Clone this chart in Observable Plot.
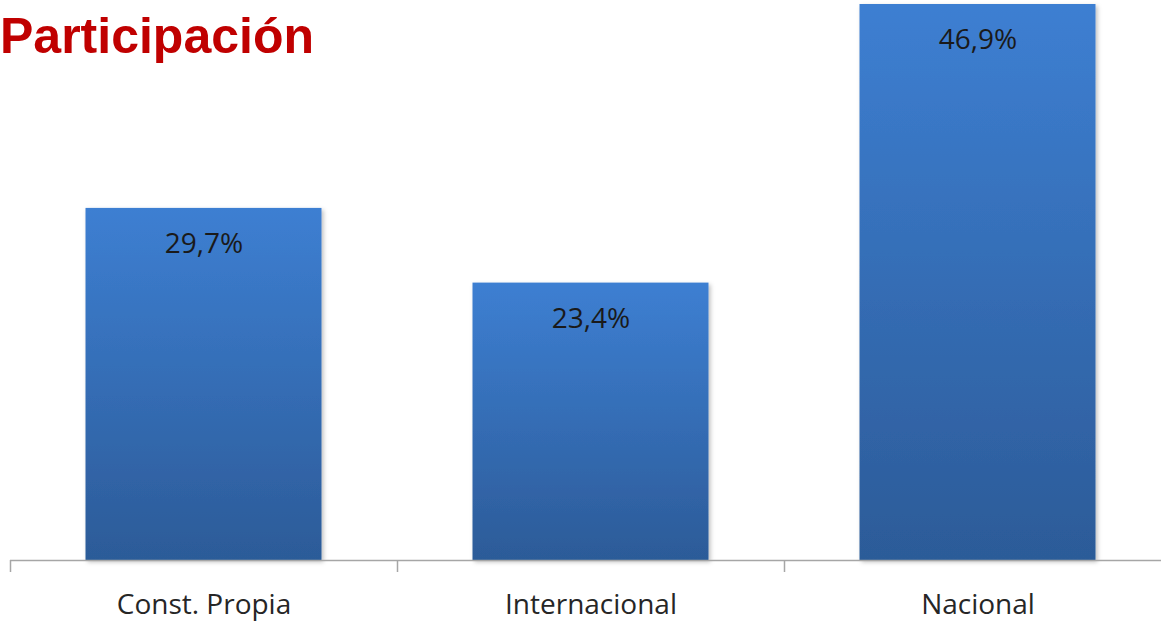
<!DOCTYPE html>
<html>
<head>
<meta charset="utf-8">
<script src="https://cdn.jsdelivr.net/npm/d3@7"></script>
<script src="https://cdn.jsdelivr.net/npm/@observablehq/plot@0.6"></script>
<style>
  html, body { margin: 0; padding: 0; background: #fff; overflow: hidden; }
  #wrap { position: relative; width: 1161px; height: 622px; overflow: hidden; }
  #title { position: absolute; left: 0px; top: 11px; font-family: "Liberation Sans", Arial, sans-serif; font-weight: bold; font-size: 50px; color: #c00000; line-height: 1; z-index: 2; }
  #chart svg { max-width: none !important; }
</style>
</head>
<body>
<div id="wrap">
  <div id="title">Participación</div>
  <div id="chart"></div>
</div>
<script>
const categories = ["Const. Propia", "Internacional", "Nacional"];
const values = [29.7, 23.4, 46.9];
const valueLabels = ["29,7%", "23,4%", "46,9%"];

const data = categories.map((c, i) => ({ cat: c, value: values[i], label: valueLabels[i] }));

const boundaryTicks = (index, scales, channels, dimensions) => {
  const g = d3.create("svg:g");
  const x = scales.x;
  const step = x.step ? x.step() : x.bandwidth();
  const y0 = dimensions.height - dimensions.marginBottom;
  const xs = categories.map(c => x(c)).concat([x(categories[categories.length - 1]) + step]);
  g.selectAll("line").data(xs).join("line")
    .attr("x1", d => d + 0.5).attr("x2", d => d + 0.5)
    .attr("y1", y0).attr("y2", y0 + 12)
    .attr("stroke", "#a6a6a6").attr("stroke-width", 1.5);
  g.append("line")
    .attr("x1", xs[0]).attr("x2", dimensions.width)
    .attr("y1", y0 + 0.5).attr("y2", y0 + 0.5)
    .attr("stroke", "#a6a6a6").attr("stroke-width", 1.5);
  return g.node();
};

const chart = Plot.plot({
  width: 1171,
  height: 622,
  marginLeft: 10,
  marginRight: 0,
  marginTop: 4,
  marginBottom: 62,
  style: { fontFamily: "'Open Sans', sans-serif", background: "transparent", overflow: "visible", maxWidth: "none" },
  x: { domain: categories, padding: 0, label: null },
  y: { domain: [0, 46.9], axis: null },
  marks: [
    Plot.barY(data, { x: "cat", y: "value", fill: "#3a78c6", insetLeft: 75.5, insetRight: 75.5 }),
    boundaryTicks,
    Plot.axisX({ tickSize: 0, tickPadding: 34, fontSize: 28, label: null, color: "#262626" }),
    Plot.text(data, { x: "cat", y: "value", text: "label", lineAnchor: "top", dy: 25, fontSize: 28, fill: "#1a1a1a" })
  ]
});

// gradient + shadow
const svg = d3.select(chart);
const defs = svg.insert("defs", ":first-child");
const grad = defs.append("linearGradient").attr("id", "barGrad").attr("x1", 0).attr("y1", 0).attr("x2", 0).attr("y2", 1);
grad.append("stop").attr("offset", "0%").attr("stop-color", "#3d7fd2");
grad.append("stop").attr("offset", "100%").attr("stop-color", "#2c5b98");
const f = defs.append("filter").attr("id", "barShadow").attr("x", "-5%").attr("y", "-5%").attr("width", "115%").attr("height", "115%");
f.append("feDropShadow").attr("dx", 2).attr("dy", 2).attr("stdDeviation", 2).attr("flood-color", "#000").attr("flood-opacity", 0.25);
svg.selectAll("rect").filter(function() { return this.getAttribute("fill") === "#3a78c6" || this.parentNode.getAttribute("fill") === "#3a78c6"; })
  .attr("fill", "url(#barGrad)").attr("filter", "url(#barShadow)");
svg.selectAll("g[fill='#3a78c6']").attr("fill", "url(#barGrad)");

document.getElementById("chart").appendChild(chart);
</script>
</body>
</html>
